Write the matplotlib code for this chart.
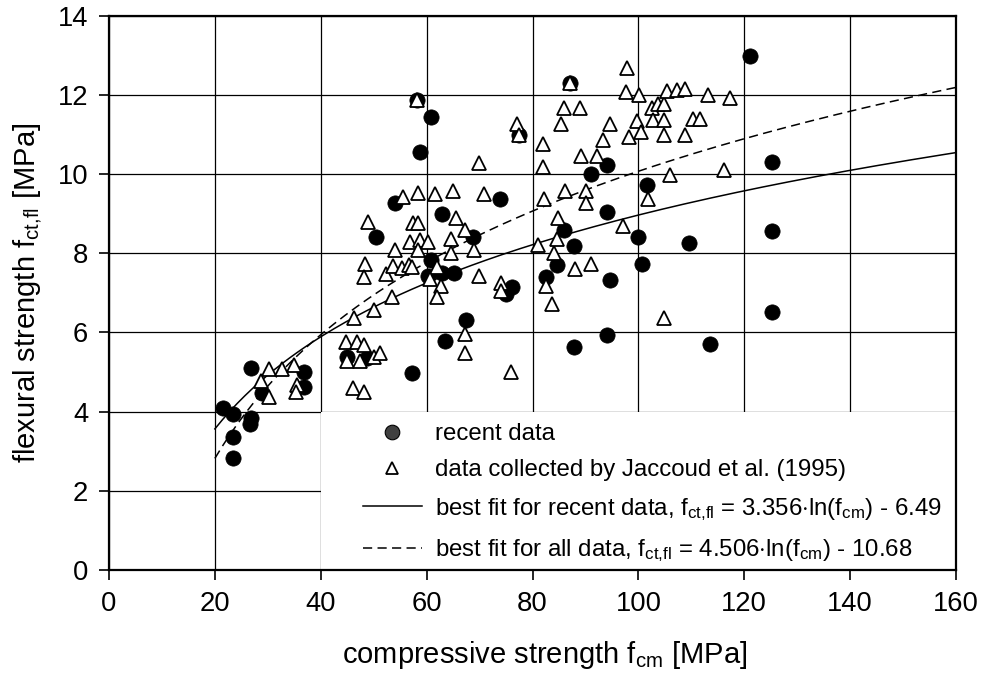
import matplotlib
matplotlib.use("Agg")
import matplotlib.pyplot as plt
import numpy as np
from matplotlib.lines import Line2D
from matplotlib.patches import Rectangle

plt.rcParams['font.family'] = ['Liberation Sans', 'DejaVu Sans']
plt.rcParams['mathtext.fontset'] = 'custom'
plt.rcParams['mathtext.rm'] = 'Liberation Sans'
plt.rcParams['mathtext.it'] = 'Liberation Sans'
plt.rcParams['mathtext.bf'] = 'Liberation Sans:bold'

# recent data (filled circles)
recent_x = [21.5, 23.5, 23.5, 23.5, 26.8, 26.8, 26.7, 28.9, 36.9, 36.9,
            45.0, 48.7, 50.5, 54.0, 57.2, 58.2, 58.7, 60.8, 60.9, 60.2,
            62.9, 65.1, 62.9, 63.5, 67.5, 68.7, 73.8, 75.0, 76.1, 77.4,
            82.6, 84.6, 85.9, 87.8, 87.1, 87.8, 91.1, 94.1, 94.1, 94.7,
            94.1, 99.9, 100.7, 101.6, 109.5, 113.5, 121.0, 125.3, 125.3, 125.3]
recent_y = [4.08, 3.93, 3.35, 2.82, 5.11, 3.85, 3.69, 4.48, 5.01, 4.61,
            5.39, 5.35, 8.42, 9.27, 4.97, 11.88, 10.55, 11.45, 7.83, 7.42,
            7.49, 7.49, 8.99, 5.78, 6.31, 8.42, 9.37, 6.98, 7.14, 10.98,
            7.41, 7.70, 8.60, 8.18, 12.30, 5.62, 10.00, 10.24, 9.03, 7.32,
            5.93, 8.42, 7.74, 9.72, 8.25, 5.72, 12.98, 10.31, 8.55, 6.51]

# data collected by Jaccoud et al. (1995) (open triangles)
jaccoud_x = [28.7, 30.2, 30.3, 32.6, 35.0, 35.6, 35.4,
             44.8, 46.8, 48.1, 45.0, 47.4, 50.0, 51.1, 46.0, 48.1, 46.3, 50.1,
             48.4, 48.2, 49.0, 52.3, 53.7, 53.5, 54.1, 55.3, 56.6, 57.2, 56.8,
             58.7, 60.2, 58.3, 57.4, 58.3, 55.6, 58.3, 61.6, 65.0, 70.8, 61.9,
             60.7, 62.7, 61.9, 64.6, 64.6, 65.6, 67.3, 69.0, 69.8, 74.0, 74.0,
             67.2, 67.2, 75.9, 58.2, 69.8, 77.1, 77.4,
             81.0, 84.0, 84.6, 84.9, 82.1, 86.2, 90.2, 90.2, 88.1, 91.1, 82.6,
             83.7, 97.1, 81.9, 82.0, 85.9, 88.9, 85.3, 87.1, 94.6, 93.4, 89.2,
             92.2,
             97.9, 97.7, 100.1, 99.7, 98.2, 100.5, 102.6, 103.8, 104.9, 102.8,
             104.9, 104.9, 105.5, 107.3, 108.9, 113.2, 117.4, 110.3, 111.6,
             108.9, 105.9, 116.1, 101.9, 104.8]
jaccoud_y = [4.78, 5.07, 4.38, 5.07, 5.19, 4.67, 4.50,
             5.75, 5.75, 5.68, 5.29, 5.29, 5.39, 5.49, 4.60, 4.49, 6.37, 6.57,
             7.74, 7.41, 8.80, 7.48, 7.68, 6.90, 8.08, 7.62, 7.70, 7.66, 8.29,
             8.33, 8.29, 8.08, 8.77, 8.77, 9.41, 9.53, 9.49, 9.57, 9.49, 7.66,
             7.34, 7.17, 6.90, 8.35, 8.00, 8.88, 8.60, 8.08, 7.42, 7.26, 7.05,
             5.96, 5.49, 5.01, 11.88, 10.29, 11.26, 10.98,
             8.21, 8.00, 8.37, 8.88, 9.36, 9.57, 9.57, 9.28, 7.59, 7.74, 7.17,
             6.72, 8.69, 10.77, 10.18, 11.68, 11.68, 11.26, 12.30, 11.26, 10.86,
             10.46, 10.46,
             12.68, 12.08, 12.00, 11.35, 10.94, 11.07, 11.68, 11.78, 11.78,
             11.36, 11.36, 10.98, 12.10, 12.13, 12.14, 12.00, 11.93, 11.40,
             11.40, 10.98, 9.97, 10.10, 9.36, 6.37]

# logarithmic best-fit coefficients given in the legend: y = a*ln(x) + b
fit_recent = (3.356, -6.49)
fit_all = (4.506, -10.68)
fit_range = (20, 160)

x_ticks = [0, 20, 40, 60, 80, 100, 120, 140, 160]
y_ticks = [0, 2, 4, 6, 8, 10, 12, 14]

fig = plt.figure(figsize=(9.82, 6.88), dpi=100)
ax = fig.add_axes([109/982, 1-570/688, (956-109)/982, (570-15.7)/688])

ax.set_xlim(0, 160)
ax.set_ylim(0, 14)
ax.set_xticks(x_ticks)
ax.set_yticks(y_ticks)
ax.set_axisbelow(True)
ax.grid(True, color='black', linewidth=0.9)
ax.add_patch(Rectangle((40, 0), 120, 4, facecolor='white', edgecolor='none', zorder=1))

xf = np.linspace(fit_range[0], fit_range[1], 200)
ax.plot(xf, fit_recent[0]*np.log(xf) + fit_recent[1], color='black', lw=1.1, zorder=2)
ax.plot(xf, fit_all[0]*np.log(xf) + fit_all[1], color='black', lw=1.1,
        dashes=(6, 3.5), zorder=2)

ax.plot(recent_x, recent_y, 'o', ms=11, mfc='black', mec='black', mew=0.5,
        ls='none', zorder=3)
ax.plot(jaccoud_x, jaccoud_y, '^', ms=10, mfc='white', mec='black', mew=1.3,
        ls='none', zorder=4)

for s in ax.spines.values():
    s.set_linewidth(1.6)
ax.tick_params(direction='out', length=7, width=1.2, labelsize=19.7, pad=8)

ax.set_xlabel(r'compressive strength $\mathrm{f_{cm}}$ [MPa]', fontsize=21, labelpad=16)
ax.xaxis.set_label_coords(0.514, -0.125)
ax.set_ylabel(r'flexural strength $\mathrm{f_{ct{,}fl}}$ [MPa]', fontsize=21, labelpad=10)

handles = [
    Line2D([], [], marker='o', ls='none', ms=10.5, mfc='#404040', mec='black', mew=0.8),
    Line2D([], [], marker='^', ls='none', ms=9, mfc='white', mec='black', mew=1.3),
    Line2D([], [], color='black', lw=1.1),
    Line2D([], [], color='black', lw=1.1, dashes=(6, 3.5)),
]
labels = [
    'recent data',
    'data collected by Jaccoud et al. (1995)',
    r'best fit for recent data, $\mathrm{f_{ct{,}fl}}$ = 3.356$\cdot$ln($\mathrm{f_{cm}}$) - 6.49',
    r'best fit for all data, $\mathrm{f_{ct{,}fl}}$ = 4.506$\cdot$ln($\mathrm{f_{cm}}$) - 10.68',
]
leg = ax.legend(handles, labels, loc='upper left', bbox_to_anchor=(363/982, 1-423/688),
                bbox_transform=fig.transFigure, frameon=False, fontsize=17.3,
                handlelength=2.45, handletextpad=0.55, labelspacing=0.6,
                borderpad=0, borderaxespad=0)

fig.savefig('out.png', dpi=100)
